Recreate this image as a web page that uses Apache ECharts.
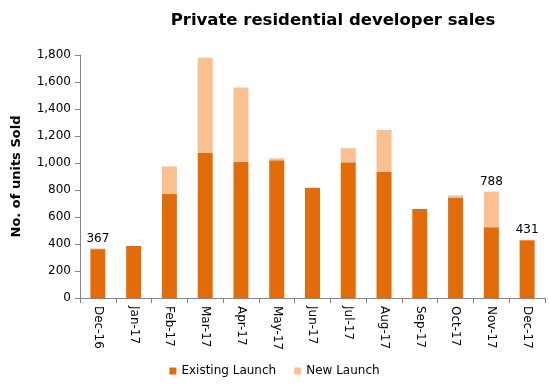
<!DOCTYPE html>
<html><head><meta charset="utf-8">
<script src="https://cdn.jsdelivr.net/npm/echarts@6/dist/echarts.min.js"></script>
<style>html,body{margin:0;padding:0;background:#fff}#c{width:549px;height:390px}</style>
</head><body><div id="c"></div>
<script>
var categories = ["Dec-16","Jan-17","Feb-17","Mar-17","Apr-17","May-17","Jun-17","Jul-17","Aug-17","Sep-17","Oct-17","Nov-17","Dec-17"];
var existingLaunch = [362, 385, 770, 1075, 1010, 1020, 815, 1005, 935, 660, 745, 525, 428];
var newLaunch = [5, 0, 205, 705, 550, 15, 3, 105, 310, 0, 15, 263, 3];
var labelledTotals = {0: 367, 11: 788, 12: 431};
var yTicks = [0, 200, 400, 600, 800, 1000, 1200, 1400, 1600, 1800];

var font = "'DejaVu Sans', Tahoma, sans-serif";
var chart = echarts.init(document.getElementById('c'));
var newData = newLaunch.map(function(v, i){
  var d = {value: v};
  if (labelledTotals[i] !== undefined) {
    d.label = {show: true, position: 'top', formatter: String(labelledTotals[i]), color: '#000', fontSize: 12, fontFamily: font, distance: 4};
  }
  return d;
});
chart.setOption({
  animation: false,
  title: {text: 'Private residential developer sales', left: 328, top: 7, textAlign: 'center',
    textStyle: {fontFamily: font, fontWeight: 'bold', fontSize: 16.5, color: '#000'}},
  grid: {left: 80, right: 4, top: 55, bottom: 92},
  legend: {bottom: 8, left: 'center', itemWidth: 7, itemHeight: 7, itemGap: 18, icon: 'rect',
    textStyle: {fontFamily: font, fontSize: 12, color: '#000'},
    data: ['Existing Launch', 'New Launch']},
  xAxis: {type: 'category', data: categories,
    axisLine: {lineStyle: {color: '#868686'}},
    axisTick: {show: true, alignWithLabel: false, length: 5, lineStyle: {color: '#868686'}},
    axisLabel: {rotate: -90, color: '#000', fontFamily: font, fontSize: 12, margin: 8, interval: 0}},
  yAxis: {type: 'value', min: yTicks[0], max: yTicks[yTicks.length-1], interval: 200,
    name: 'No. of units Sold', nameLocation: 'middle', nameGap: 57, nameRotate: 90,
    nameTextStyle: {fontFamily: font, fontWeight: 'bold', fontSize: 13, color: '#000'},
    axisLine: {show: true, lineStyle: {color: '#868686'}},
    axisTick: {show: true, length: 5, lineStyle: {color: '#868686'}},
    splitLine: {show: false},
    axisLabel: {color: '#000', fontFamily: font, fontSize: 12, margin: 9,
      formatter: function(v){ return v.toLocaleString('en-US'); }}},
  series: [
    {name: 'Existing Launch', type: 'bar', stack: 's', data: existingLaunch, barWidth: 15,
      itemStyle: {color: '#E36C0A'}},
    {name: 'New Launch', type: 'bar', stack: 's', data: newData, barWidth: 15,
      itemStyle: {color: '#FAC090'}}
  ]
});
</script></body></html>
